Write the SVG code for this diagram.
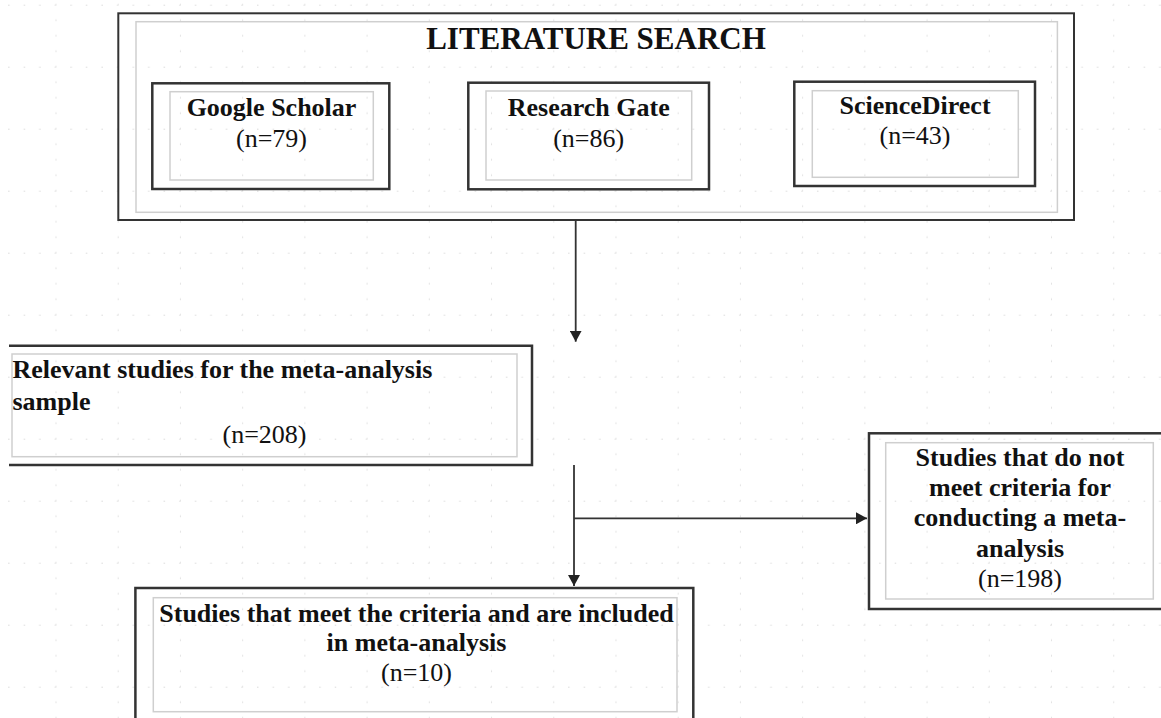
<svg xmlns="http://www.w3.org/2000/svg" width="1161" height="718" viewBox="0 0 1161 718">
<style>
.outer{fill:none;stroke:#333;stroke-width:2.5}
.inner{fill:none;stroke:#cfcfcf;stroke-width:1.5}
.b{font-family:"Liberation Serif","Times New Roman",serif;font-weight:bold;font-size:26px;fill:#111;text-anchor:middle}
.r{font-family:"Liberation Serif","Times New Roman",serif;font-size:26px;fill:#111;text-anchor:middle}
.conn{fill:none;stroke:#333;stroke-width:1.8}
</style>
<defs>
<pattern id="grid" patternUnits="userSpaceOnUse" x="55.5" y="4.7" width="62.22" height="62">
<rect x="-0.75" y="-0.75" width="1.5" height="1.5" fill="#cfcfcf"/>
<rect x="14.8" y="-0.75" width="1.5" height="1.5" fill="#cfcfcf"/>
<rect x="30.35" y="-0.75" width="1.5" height="1.5" fill="#cfcfcf"/>
<rect x="45.9" y="-0.75" width="1.5" height="1.5" fill="#cfcfcf"/>
<rect x="-0.75" y="14.75" width="1.5" height="1.5" fill="#cfcfcf"/>
<rect x="-0.75" y="30.25" width="1.5" height="1.5" fill="#cfcfcf"/>
<rect x="-0.75" y="45.75" width="1.5" height="1.5" fill="#cfcfcf"/>
<rect x="61.47" y="-0.75" width="1.5" height="1.5" fill="#cfcfcf"/>
<rect x="-0.75" y="61.25" width="1.5" height="1.5" fill="#cfcfcf"/>
</pattern>
<marker id="arrow" markerUnits="userSpaceOnUse" markerWidth="12" markerHeight="12" refX="11" refY="6" orient="auto">
<path d="M0,0 L11,6 L0,12 Z" fill="#222"/>
</marker>
</defs>
<rect width="1161" height="718" fill="#ffffff"/>
<rect width="1161" height="718" fill="url(#grid)"/>

<g id="literature-search">
<rect class="outer" x="118.3" y="13.3" width="955.7" height="206.7" style="stroke-width:2"/>
<rect class="inner" x="136" y="21.7" width="921.4" height="190.6"/>
<text x="596" y="49.3" class="b" style="font-size:31px">LITERATURE SEARCH</text>
</g>

<g id="google-scholar">
<rect class="outer" x="152.3" y="83.3" width="237" height="105.7"/>
<rect class="inner" x="170" y="91.7" width="203.3" height="88.3"/>
<text x="271.5" y="116" class="b">Google Scholar</text>
<text x="271.5" y="146.5" class="r">(n=79)</text>
</g>

<g id="research-gate">
<rect class="outer" x="468.3" y="82.7" width="240.7" height="106.6"/>
<rect class="inner" x="486" y="91" width="205.7" height="89"/>
<text x="588.7" y="116" class="b">Research Gate</text>
<text x="588.7" y="146.5" class="r">(n=86)</text>
</g>

<g id="sciencedirect">
<rect class="outer" x="794.3" y="81.7" width="240.7" height="104.3"/>
<rect class="inner" x="812.3" y="90.7" width="206" height="86.6"/>
<text x="915" y="113.5" class="b">ScienceDirect</text>
<text x="915" y="143.5" class="r">(n=43)</text>
</g>

<g id="relevant-studies">
<path class="outer" d="M9,345.7 H532 V465 H9"/>
<rect class="inner" x="12" y="354" width="505" height="102.7"/>
<text x="12.5" y="378" class="b" style="text-anchor:start">Relevant studies for the meta-analysis</text>
<text x="12.5" y="410" class="b" style="text-anchor:start">sample</text>
<text x="264.5" y="443" class="r">(n=208)</text>
</g>

<g id="excluded-studies">
<rect class="outer" x="869" y="433.3" width="310" height="175.7"/>
<rect class="inner" x="885.7" y="442.7" width="267.6" height="156.3"/>
<text x="1020" y="466" class="b">Studies that do not</text>
<text x="1020" y="496" class="b">meet criteria for</text>
<text x="1020" y="526" class="b">conducting a meta-</text>
<text x="1020" y="556.5" class="b">analysis</text>
<text x="1020" y="587" class="r">(n=198)</text>
</g>

<g id="included-studies">
<rect class="outer" x="135.4" y="588" width="557.9" height="140"/>
<rect class="inner" x="153.3" y="597.7" width="523.7" height="114"/>
<text x="416.5" y="622" class="b">Studies that meet the criteria and are included</text>
<text x="416.5" y="651" class="b">in meta-analysis</text>
<text x="416.5" y="681" class="r">(n=10)</text>
</g>

<g id="connectors">
<path class="conn" d="M575.7,220 V341.7" marker-end="url(#arrow)"/>
<path class="conn" d="M574,465 V586" marker-end="url(#arrow)"/>
<path class="conn" d="M574,518.3 H867" marker-end="url(#arrow)"/>
</g>
</svg>
